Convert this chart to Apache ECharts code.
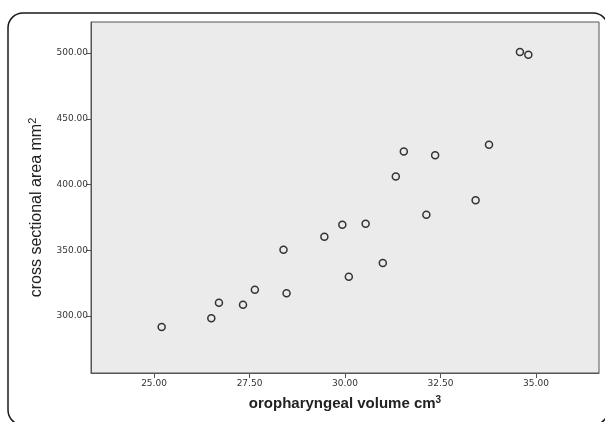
<!DOCTYPE html>
<html>
<head>
<meta charset="utf-8">
<script src="https://cdn.jsdelivr.net/npm/echarts@6/dist/echarts.min.js"></script>
<style>
html,body{margin:0;padding:0;background:#fff;}
#chart{width:605px;height:422px;}
</style>
</head>
<body>
<div id="chart"></div>
<script>
var volume = [25.20, 26.50, 26.70, 27.33, 27.64, 28.47, 30.10, 28.39, 29.46, 29.93, 30.54, 30.99, 31.33, 31.54, 32.36, 32.13, 33.42, 33.77, 34.58, 34.80];
var area   = [291.6, 298.3, 310.1, 308.6, 320.0, 317.3, 329.9, 350.4, 360.3, 369.4, 370.2, 340.3, 406.2, 425.2, 422.2, 377.0, 388.0, 430.3, 500.8, 498.7];
var xTicks = [25, 27.5, 30, 32.5, 35];
var yTicks = [300, 350, 400, 450, 500];

var pts = volume.map(function(v, i){ return [v, area[i]]; });

var chart = echarts.init(document.getElementById('chart'));
var labelFont = 'DejaVu Sans';
chart.setOption({
  animation: false,
  backgroundColor: '#ffffff',
  graphic: [{
    type: 'rect',
    shape: {x: 8, y: 13, width: 600, height: 412, r: 15},
    style: {fill: 'none', stroke: '#1a1a1a', lineWidth: 1.5},
    silent: true
  }],
  grid: {left: 91, right: 6, top: 22, bottom: 49, show: true,
         backgroundColor: '#ebebeb', borderColor: '#555', borderWidth: 1},
  xAxis: {
    type: 'value', min: 23.35, max: 36.65,
    name: '{t|oropharyngeal volume cm}{s|3}',
    nameLocation: 'middle', nameGap: 22,
    nameTextStyle: {rich: {
      t: {fontFamily: 'Liberation Sans', fontSize: 15, fontWeight: 'bold', color: '#222', lineHeight: 17},
      s: {fontFamily: 'Liberation Sans', fontSize: 10, fontWeight: 'bold', color: '#222', verticalAlign: 'top', lineHeight: 10, padding: [0,0,6,0]}
    }},
    axisLine: {show: true, lineStyle: {color: '#555'}},
    axisTick: {show: true, length: 5, lineStyle: {color: '#555'}, customValues: xTicks},
    axisLabel: {customValues: xTicks, margin: 6, fontFamily: labelFont, fontSize: 9, color: '#333',
      formatter: function(v){ return v.toFixed(2); }},
    splitLine: {show: false}
  },
  yAxis: {
    type: 'value', min: 256.7, max: 523.6,
    name: '{t|cross sectional area mm}{s|2}',
    nameLocation: 'middle', nameGap: 43, nameRotate: 90,
    nameTextStyle: {padding: [0, 20, 0, 0], rich: {
      t: {fontFamily: 'Liberation Sans', fontSize: 16, color: '#222', lineHeight: 18},
      s: {fontFamily: 'Liberation Sans', fontSize: 11, color: '#222', verticalAlign: 'top', lineHeight: 11, padding: [0,0,7,0]}
    }},
    axisLine: {show: true, lineStyle: {color: '#555'}},
    axisTick: {show: true, length: 5, lineStyle: {color: '#555'}, customValues: yTicks},
    axisLabel: {customValues: yTicks, margin: 3, fontFamily: labelFont, fontSize: 9, color: '#333',
      formatter: function(v){ return v.toFixed(2); }},
    splitLine: {show: false}
  },
  series: [{
    type: 'scatter',
    data: pts,
    symbol: 'circle',
    symbolSize: 7,
    itemStyle: {color: 'rgba(0,0,0,0)', borderColor: '#333', borderWidth: 1.5, opacity: 1}
  }]
});
</script>
</body>
</html>
